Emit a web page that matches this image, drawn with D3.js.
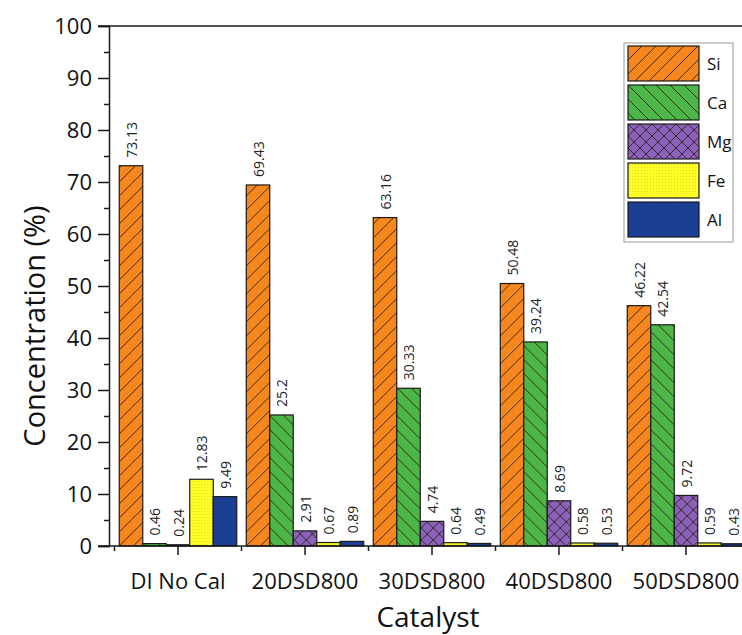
<!DOCTYPE html>
<html>
<head>
<meta charset="utf-8">
<script src="https://cdn.jsdelivr.net/npm/d3@7/dist/d3.min.js"></script>
<style>
  html, body { margin: 0; padding: 0; background: #fff; }
  svg { display: block; font-family: "Open Sans", "Noto Sans", sans-serif; }
</style>
</head>
<body>
<svg id="chart" width="742" height="635"></svg>
<script>
// Elemental composition of each catalyst (wt %)
const catalysts = ["DI No Cal", "20DSD800", "30DSD800", "40DSD800", "50DSD800"];
const elements  = ["Si", "Ca", "Mg", "Fe", "Al"];
const si = [73.13, 69.43, 63.16, 50.48, 46.22];
const ca = [0.46, 25.2, 30.33, 39.24, 42.54];
const mg = [0.24, 2.91, 4.74, 8.69, 9.72];
const fe = [12.83, 0.67, 0.64, 0.58, 0.59];
const al = [9.49, 0.89, 0.49, 0.53, 0.43];
const yTicks = [0, 10, 20, 30, 40, 50, 60, 70, 80, 90, 100];
const yMinorTicks = [5, 15, 25, 35, 45, 55, 65, 75, 85, 95];

const seriesValues = { Si: si, Ca: ca, Mg: mg, Fe: fe, Al: al };
const fills = { Si: "#f6871f", Ca: "#4cb748", Mg: "#8a62bb", Fe: "#ffff26", Al: "#1b3f95" };

const svg = d3.select("#chart");
const W = 742, H = 635;
const plotTop = 26, plotBottom = 546, axisX = 109, tickEndX = 98;

const y = d3.scaleLinear().domain([0, 100]).range([plotBottom, plotTop]);
const x = d3.scaleBand().domain(catalysts).range([114.5, 749.5])
  .paddingInner(0.075).paddingOuter(0.0375);
const xs = d3.scaleBand().domain(elements).range([0, x.bandwidth()]);

// ---- fill patterns ----
const defs = svg.append("defs");
function linePattern(id, color, d, size) {
  const p = defs.append("pattern").attr("id", id)
    .attr("patternUnits", "userSpaceOnUse").attr("width", size).attr("height", size);
  p.append("rect").attr("width", size).attr("height", size).attr("fill", color);
  p.append("path").attr("d", d).attr("stroke", "#2a1a08").attr("stroke-width", 1)
    .attr("fill", "none").attr("stroke-opacity", 0.85);
}
const s = 14;
linePattern("pat-Si", fills.Si, `M0,${s} L${s},0 M${-s/2},${s/2} L${s/2},${-s/2} M${s/2},${s*1.5} L${s*1.5},${s/2}`, s);
linePattern("pat-Ca", fills.Ca, `M0,0 L${s},${s} M${-s/2},${s/2} L${s/2},${s*1.5} M${s/2},${-s/2} L${s*1.5},${s/2}`, s);
const c = 12;
linePattern("pat-Mg", fills.Mg, `M0,0 L${c},${c} M0,${c} L${c},0`, c);
function dotPattern(id, color, dot) {
  const p = defs.append("pattern").attr("id", id)
    .attr("patternUnits", "userSpaceOnUse").attr("width", 3).attr("height", 3);
  p.append("rect").attr("width", 3).attr("height", 3).attr("fill", color);
  p.append("rect").attr("x", 1).attr("y", 1).attr("width", 1).attr("height", 1)
    .attr("fill", dot);
}
dotPattern("pat-Fe", fills.Fe, "#d8d830");
dotPattern("pat-Al", fills.Al, "#163680");

// ---- bars ----
const rows = catalysts.map((cat, i) => ({
  cat, values: elements.map(el => ({ el, v: seriesValues[el][i] }))
}));

const groups = svg.append("g").selectAll("g").data(rows).join("g")
  .attr("transform", d => `translate(${x(d.cat)},0)`);

groups.selectAll("rect").data(d => d.values).join("rect")
  .attr("x", d => xs(d.el))
  .attr("y", d => y(d.v))
  .attr("width", xs.bandwidth())
  .attr("height", d => y(0) - y(d.v))
  .attr("fill", d => `url(#pat-${d.el})`)
  .attr("stroke", "#1a1a1a")
  .attr("stroke-width", 1.2);

groups.selectAll("text").data(d => d.values).join("text")
  .attr("transform", d => `translate(${xs(d.el) + xs.bandwidth() / 2 + 1},${y(d.v) - 8}) rotate(-90)`)
  .attr("dy", "0.35em")
  .attr("text-anchor", "start")
  .attr("font-size", 14)
  .attr("fill", "#222")
  .text(d => d.v);

// ---- axes ----
const axisColor = "#1a1a1a";
const yAxis = svg.append("g").attr("transform", `translate(${axisX},0)`)
  .call(d3.axisLeft(y).tickValues(yTicks).tickSize(axisX - tickEndX).tickPadding(6).tickFormat(d3.format("d")));
yAxis.select(".domain").attr("stroke", axisColor).attr("stroke-width", 1.5);
yAxis.selectAll(".tick line").attr("stroke", axisColor).attr("stroke-width", 1.5);
yAxis.selectAll("text").attr("font-size", 22).attr("fill", "#111")
  .attr("font-family", "'Open Sans', sans-serif");
svg.append("g").attr("transform", `translate(${axisX},0)`)
  .call(d3.axisLeft(y).tickValues(yMinorTicks).tickSize(5).tickFormat(""))
  .call(g => g.select(".domain").remove())
  .selectAll("line").attr("stroke", axisColor).attr("stroke-width", 1.5);

// frame: top line and bottom line run across the plot
svg.append("line").attr("x1", tickEndX).attr("x2", W).attr("y1", y(100)).attr("y2", y(100))
  .attr("stroke", axisColor).attr("stroke-width", 1.5);
svg.append("line").attr("x1", tickEndX).attr("x2", W).attr("y1", y(0)).attr("y2", y(0))
  .attr("stroke", axisColor).attr("stroke-width", 1.5);

// x axis: major ticks at category centres, minor ticks at group boundaries
const xAxis = svg.append("g").attr("transform", `translate(0,${plotBottom})`);
xAxis.selectAll("line.major").data(catalysts).join("line").attr("class", "major")
  .attr("x1", d => x(d) + x.bandwidth() / 2).attr("x2", d => x(d) + x.bandwidth() / 2)
  .attr("y1", 0).attr("y2", 9).attr("stroke", axisColor).attr("stroke-width", 1.5);
xAxis.selectAll("line.minor").data(catalysts).join("line").attr("class", "minor")
  .attr("x1", d => x(d) - x.step() * x.paddingInner() / 2)
  .attr("x2", d => x(d) - x.step() * x.paddingInner() / 2)
  .attr("y1", 0).attr("y2", 5).attr("stroke", axisColor).attr("stroke-width", 1.5);
xAxis.selectAll("text").data(catalysts).join("text")
  .attr("x", d => x(d) + x.bandwidth() / 2)
  .attr("y", 43)
  .attr("text-anchor", "middle")
  .attr("font-size", 22)
  .attr("fill", "#111")
  .text(d => d);

// axis titles
svg.append("text").attr("transform", `translate(45,326) rotate(-90)`)
  .attr("text-anchor", "middle").attr("font-size", 29).attr("fill", "#111")
  .text("Concentration (%)");
svg.append("text").attr("x", 428).attr("y", 627)
  .attr("text-anchor", "middle").attr("font-size", 28).attr("fill", "#111")
  .text("Catalyst");

// ---- legend ----
const lg = svg.append("g").attr("transform", "translate(624,43)");
lg.append("rect").attr("width", 109).attr("height", 199)
  .attr("fill", "#fff").attr("stroke", "#999").attr("stroke-width", 1);
const items = lg.selectAll("g").data(elements).join("g")
  .attr("transform", (d, i) => `translate(4,${3 + i * 39})`);
items.append("rect").attr("width", 71).attr("height", 35)
  .attr("fill", d => `url(#pat-${d})`).attr("stroke", "#1a1a1a").attr("stroke-width", 1.2);
items.append("text").attr("x", 79).attr("y", 18).attr("dy", "0.35em")
  .attr("font-size", 17).attr("fill", "#111").text(d => d);
</script>
</body>
</html>
